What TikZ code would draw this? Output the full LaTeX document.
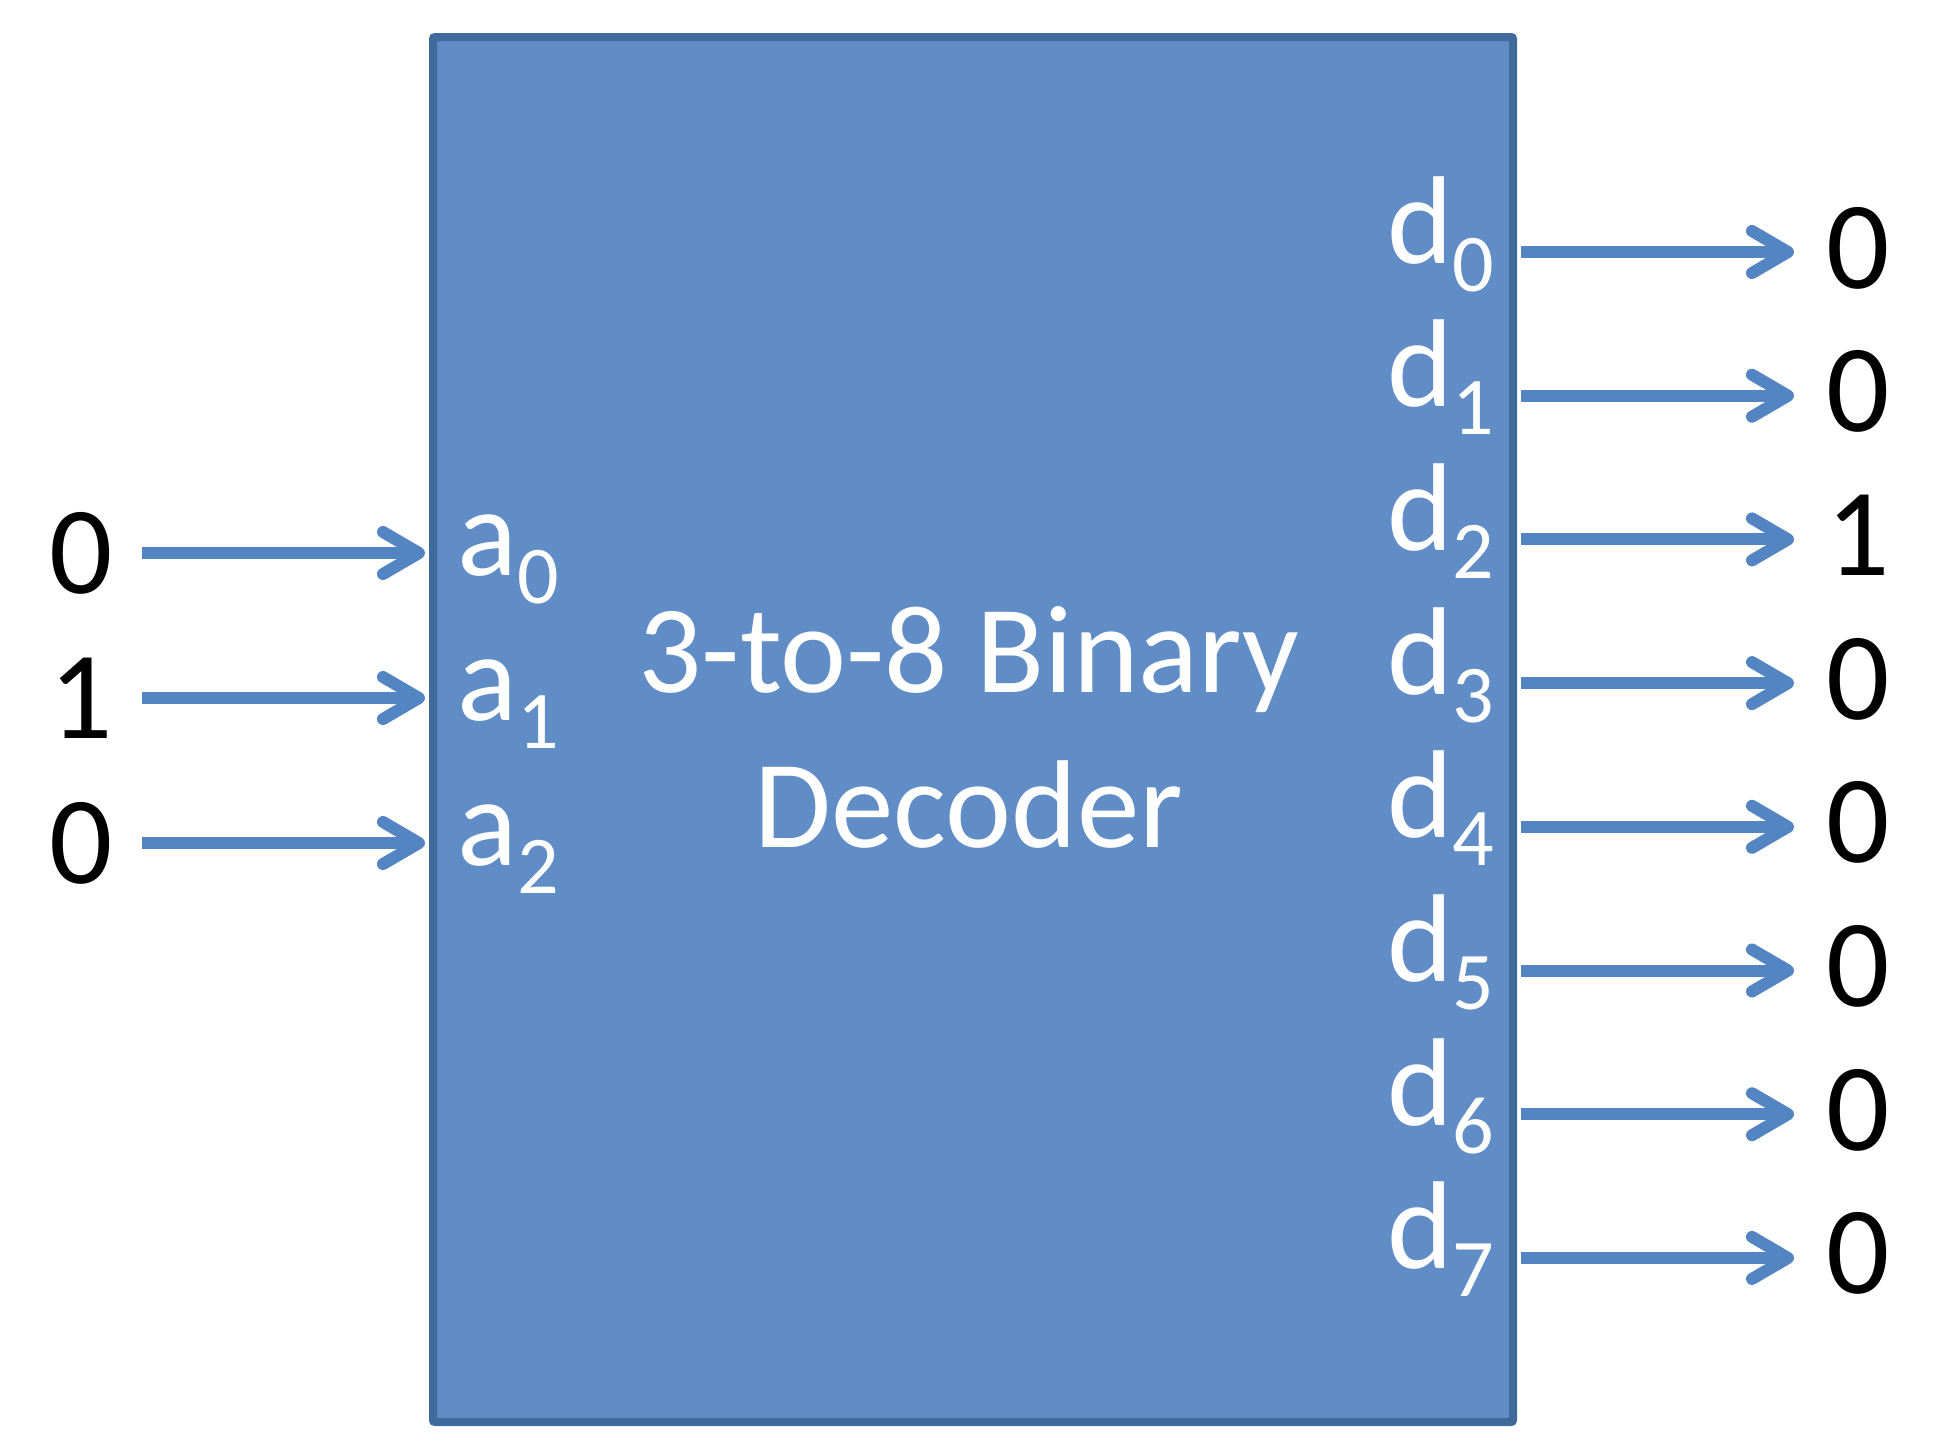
\documentclass[tikz,border=0pt]{standalone}
\usepackage{fontspec}
\setmainfont{Carlito}
\usetikzlibrary{arrows.meta}
\definecolor{boxfill}{RGB}{96,141,198}
\definecolor{boxline}{RGB}{62,106,156}
\definecolor{sigblue}{RGB}{84,133,195}
\newcommand\decbig{\fontsize{125}{150}\selectfont}
\newcommand\decsub[1]{\raisebox{-28pt}{\fontsize{82}{90}\selectfont #1}}
\begin{document}
\begin{tikzpicture}[x=1pt,y=-1pt,
  sig/.style={draw=sigblue, line width=12pt, -{Straight Barb[length=36pt,width=42pt,line width=12pt,round]}},
  txt/.style={inner sep=0pt, anchor=base},
  lbl/.style={inner sep=0pt, anchor=base west, text=white},
  decbox/.style={draw=boxline, line width=8pt, fill=boxfill, minimum width=1080pt, minimum height=1385pt, inner sep=0pt, anchor=north west, rounded corners=2pt}]
\useasboundingbox (0,0) rectangle (1943,1449);
\node[decbox] (dec) at (429,33) {};
\node[txt, text=white] (t1) at (969,692) {\decbig 3-to-8 Binary};
\node[txt, text=white] (t2) at (969,847) {\decbig Decoder};
\foreach \i/\v [evaluate=\i as \y using 553+145*\i] in {0/0,1/1,2/0} {
  \node[txt] (in\i) at (81,\y+40) {\decbig \v};
  \coordinate (is\i) at (142,\y);
  \node[lbl] (a\i) at (457,\y+22) {\decbig a\decsub{\i}};
  \draw[sig, shorten >=4pt] (is\i) -- (dec.west |- is\i);
}
\foreach \i/\v [evaluate=\i as \y using 252+143.7*\i] in {0/0,1/0,2/1,3/0,4/0,5/0,6/0,7/0} {
  \coordinate (oe\i) at (1794,\y);
  \draw[sig, shorten <=4pt] (dec.east |- oe\i) -- (oe\i);
  \node[txt] (out\i) at (1858,\y+36) {\decbig \v};
  \node[lbl] (d\i) at (1387,\y+11) {\decbig d\decsub{\i}};
}
\end{tikzpicture}
\end{document}
